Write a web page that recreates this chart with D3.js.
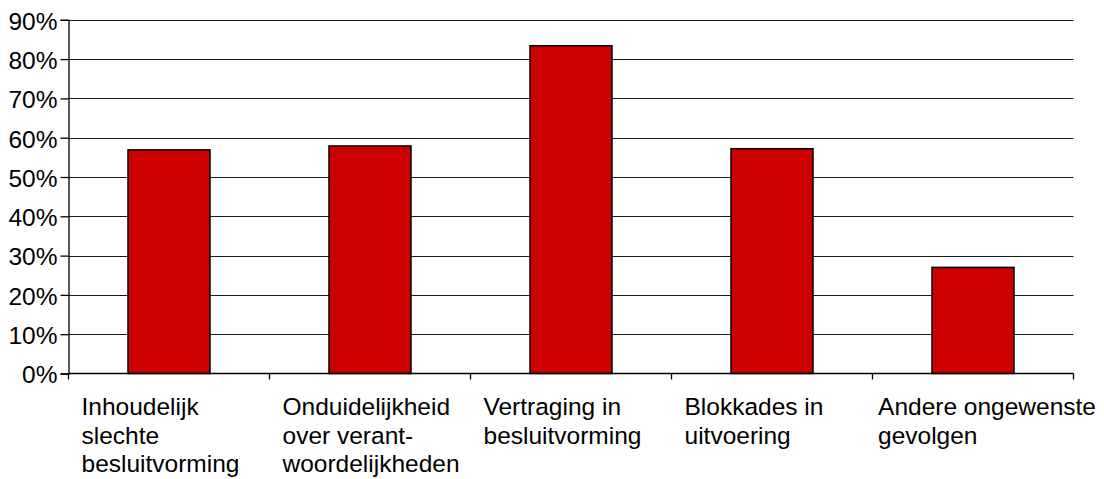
<!DOCTYPE html>
<html>
<head>
<meta charset="utf-8">
<script src="https://cdn.jsdelivr.net/npm/d3@7"></script>
<style>
  html, body { margin: 0; padding: 0; background: #fff; }
  svg { display: block; }
  text { font-family: "Liberation Sans", Arial, sans-serif; fill: #000; }
</style>
</head>
<body>
<svg id="chart" width="1104" height="479"></svg>
<script>
const categories = [
  ["Inhoudelijk", "slechte", "besluitvorming"],
  ["Onduidelijkheid", "over verant-", "woordelijkheden"],
  ["Vertraging in", "besluitvorming"],
  ["Blokkades in", "uitvoering"],
  ["Andere ongewenste", "gevolgen"]
];
const values = [56.9, 57.9, 83.4, 57.2, 27.0];
const yTicks = [0, 10, 20, 30, 40, 50, 60, 70, 80, 90];
const yTickLabels = ["0%", "10%", "20%", "30%", "40%", "50%", "60%", "70%", "80%", "90%"];

const W = 1104, H = 479;
const mLeft = 68.5, mRight = 1073.5, mTop = 19.8, mBottom = 373.5;
const svg = d3.select("#chart");

const x = d3.scaleBand().domain(d3.range(categories.length)).range([mLeft, mRight]).padding(0);
const y = d3.scaleLinear().domain([0, 90]).range([mBottom, mTop]);

// gridlines
svg.append("g").selectAll("line").data(yTicks.filter(d => d > 0)).join("line")
  .attr("x1", mLeft).attr("x2", mRight)
  .attr("y1", d => Math.round(y(d)) + 0.5).attr("y2", d => Math.round(y(d)) + 0.5)
  .attr("stroke", "#1a1a1a").attr("stroke-width", 1);

// y axis
const yAxis = d3.axisLeft(y).tickValues(yTicks).tickSize(8).tickPadding(3)
  .tickFormat((d, i) => yTickLabels[i]);
const gy = svg.append("g").attr("transform", `translate(${mLeft},0)`).call(yAxis);
gy.select(".domain").attr("stroke", "#000").attr("stroke-width", 1.3);
gy.selectAll(".tick line").attr("stroke", "#000").attr("stroke-width", 1.3);
gy.selectAll(".tick text").attr("font-size", "24.5px")
  .attr("font-family", "Liberation Sans, Arial, sans-serif").attr("dy", "0.38em").attr("fill", "#000");

// bars
const barFrac = 0.408;
svg.append("g").selectAll("rect").data(values).join("rect")
  .attr("x", (d, i) => x(i) + x.bandwidth() * (1 - barFrac) / 2)
  .attr("width", x.bandwidth() * barFrac)
  .attr("y", d => y(d))
  .attr("height", d => y(0) - y(d))
  .attr("fill", "#CC0000").attr("stroke", "#000").attr("stroke-width", 1.5);

// x axis line & ticks
svg.append("line").attr("x1", mLeft).attr("x2", mRight).attr("y1", mBottom).attr("y2", mBottom)
  .attr("stroke", "#000").attr("stroke-width", 1.3);
const bounds = d3.range(categories.length + 1).map(i => i < categories.length ? x(i) : mRight);
svg.append("g").selectAll("line").data(bounds).join("line")
  .attr("x1", d => d).attr("x2", d => d).attr("y1", mBottom).attr("y2", mBottom + 6)
  .attr("stroke", "#000").attr("stroke-width", 1.3);

// category labels
const lbl = svg.append("g");
categories.forEach((lines, i) => {
  const t = lbl.append("text").attr("font-size", "24.5px");
  lines.forEach((ln, j) => {
    t.append("tspan").attr("x", 0).attr("y", 415 + j * 28.7).text(ln);
  });
  const wMax = d3.max(t.selectAll("tspan").nodes(), n => n.getComputedTextLength());
  const sx = Math.min(x(i) + 13, W - 8 - wMax);
  t.selectAll("tspan").attr("x", sx);
});
</script>
</body>
</html>
